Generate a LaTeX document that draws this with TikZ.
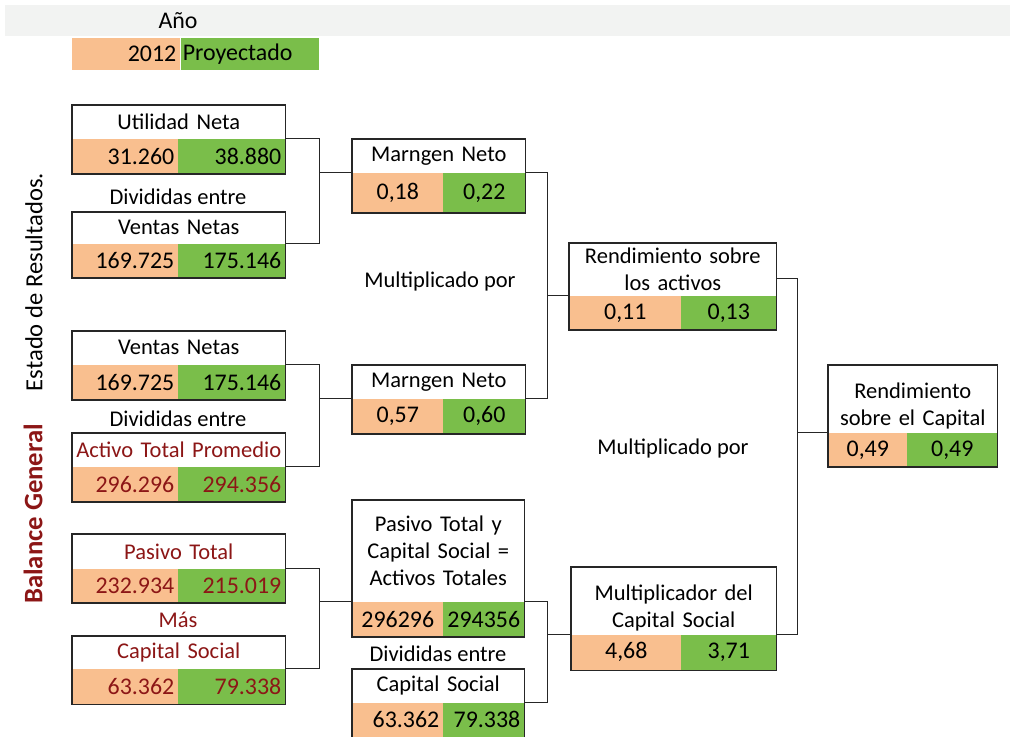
\documentclass[tikz,border=0pt]{standalone}
\usepackage{fontspec}
\setmainfont{Carlito}
\usetikzlibrary{positioning}
\newcommand{\myfont}{\fontsize{16}{19}\selectfont}
\newcommand{\numfont}{\fontsize{17}{20}\selectfont}
\newcommand{\pxu}{0.25mm}
\newcommand{\tallstrut}{\rule{0pt}{21pt}}
\definecolor{cellorange}{RGB}{249,191,143}
\definecolor{cellgreen}{RGB}{122,190,74}
\definecolor{darkred}{RGB}{140,22,22}
\definecolor{bandgray}{RGB}{242,243,242}
\tikzset{
  hdr/.style 2 args={rectangle, fill=white, inner sep=0pt, align=center,
    font=\myfont, anchor=north west, minimum width=#1*\pxu,
    text width=(#1-8)*\pxu, minimum height=#2*\pxu},
  orgcell/.style 2 args={rectangle, fill=cellorange, inner sep=0pt,
    font=\numfont, anchor=north west, align=center, minimum width=#1*\pxu,
    text width=(#1-8)*\pxu, minimum height=#2*\pxu},
  grncell/.style 2 args={rectangle, fill=cellgreen, inner sep=0pt,
    font=\numfont, anchor=north east, align=center, minimum width=#1*\pxu,
    text width=(#1-8)*\pxu, minimum height=#2*\pxu},
  frame/.style={draw=black!85, line width=0.9pt},
  link/.style={draw=black!85, line width=0.8pt},
  optext/.style={font=\myfont, inner sep=1pt}
}

\begin{document}
\begin{tikzpicture}[x=0.25mm, y=-0.25mm]

  \useasboundingbox (0,0) rectangle (1010,737);

  %%%%%%%%%%% year legend
  \fill [bandgray] (5,5) rectangle (1010,36);
  \node [optext, font=\fontsize{17}{20}\selectfont] (anio) at (178,21) {Año};
  \node [orgcell={108}{32}, align=right] (yr) at (72,38) {2012};
  \node [grncell={138}{32}, anchor=north west, align=left, text width=134*\pxu] (proj) at (yr.north east) {Proyectado};

  %%%%%%%%%%% side labels
  \node [rotate=90, font=\fontsize{17.5}{20}\selectfont] (edr) at (34,282) {Estado de Resultados.};
  \node [rotate=90, text=darkred, font=\bfseries\fontsize{19}{22}\selectfont] (bal) at (33,514) {Balance General};

  %%%%%%%%%%% first column
  % Utilidad Neta
  \node [hdr={213}{33}] (un) at (72,105) {Utilidad Neta};
  \node [orgcell={106}{35}, align=right] (unl) at (un.south west) {31.260};
  \node [grncell={107}{35}, align=right] (unr) at (un.south east) {38.880};
  \draw [frame] (un.north west) rectangle (unr.south east);

  \node [optext] (div1) at (178,197) {Divididas entre};

  % Ventas Netas
  \node [hdr={213}{31}] (vn) at (72,212) {Ventas Netas};
  \node [orgcell={106}{34}, align=right] (vnl) at (vn.south west) {169.725};
  \node [grncell={107}{34}, align=right] (vnr) at (vn.south east) {175.146};
  \draw [frame] (vn.north west) rectangle (vnr.south east);

  % Ventas Netas (second)
  \node [hdr={213}{33}] (vnb) at (72,331) {Ventas Netas};
  \node [orgcell={106}{35}, align=right] (vnbl) at (vnb.south west) {169.725};
  \node [grncell={107}{35}, align=right] (vnbr) at (vnb.south east) {175.146};
  \draw [frame] (vnb.north west) rectangle (vnbr.south east);

  \node [optext] (div2) at (178,419) {Divididas entre};

  % Activo Total Promedio
  \node [hdr={213}{33}, text=darkred] (atp) at (72,433) {Activo Total Promedio};
  \node [orgcell={106}{35}, align=right, text=darkred] (atpl) at (atp.south west) {296.296};
  \node [grncell={107}{35}, align=right, text=darkred] (atpr) at (atp.south east) {294.356};
  \draw [frame] (atp.north west) rectangle (atpr.south east);

  % Pasivo Total
  \node [hdr={213}{34}, text=darkred] (pas) at (72,534) {Pasivo Total};
  \node [orgcell={106}{34}, align=right, text=darkred] (pasl) at (pas.south west) {232.934};
  \node [grncell={107}{34}, align=right, text=darkred] (pasr) at (pas.south east) {215.019};
  \draw [frame] (pas.north west) rectangle (pasr.south east);

  \node [optext, text=darkred] (mas) at (178,620) {Más};

  % Capital Social
  \node [hdr={213}{32}, text=darkred] (cap) at (72,636) {Capital Social};
  \node [orgcell={106}{35}, align=right, text=darkred] (capl) at (cap.south west) {63.362};
  \node [grncell={107}{35}, align=right, text=darkred] (capr) at (cap.south east) {79.338};
  \draw [frame] (cap.north west) rectangle (capr.south east);

  %%%%%%%%%%% second column
  % Marngen Neto
  \node [hdr={173}{33}] (mn) at (352,139) {Marngen Neto};
  \node [orgcell={91}{40}] (mnl) at (mn.south west) {0,18};
  \node [grncell={82}{40}] (mnr) at (mn.south east) {0,22};
  \draw [frame] (mn.north west) rectangle (mnr.south east);

  \node [optext] (mul1) at (440,282) {Multiplicado por};

  % Marngen Neto (second)
  \node [hdr={173}{33}] (mnb) at (352,365) {Marngen Neto};
  \node [orgcell={91}{35}] (mnbl) at (mnb.south west) {0,57};
  \node [grncell={82}{35}] (mnbr) at (mnb.south east) {0,60};
  \draw [frame] (mnb.north west) rectangle (mnbr.south east);

  % Pasivo Total y Capital Social
  \node [hdr={172}{101}] (pyc) at (352,500) {Pasivo Total y\\ Capital Social =\\ Activos Totales};
  \node [orgcell={91}{35}] (pycl) at (pyc.south west) {296296};
  \node [grncell={81}{35}] (pycr) at (pyc.south east) {294356};
  \draw [frame] (pyc.north west) rectangle (pycr.south east);

  \node [optext] (div3) at (438,654) {Divididas entre};

  % Capital Social (second)
  \node [hdr={172}{33}] (capb) at (352,669) {Capital Social};
  \node [orgcell={91}{34}, align=right] (capbl) at (capb.south west) {63.362};
  \node [grncell={81}{34}, align=right] (capbr) at (capb.south east) {79.338};
  \draw [frame] (capb.north west) rectangle (capbr.south east);

  %%%%%%%%%%% third column
  % Rendimiento sobre los activos
  \node [hdr={207}{52}] (ra) at (569,243) {Rendimiento sobre\\ los activos};
  \node [orgcell={112}{34}] (ral) at (ra.south west) {0,11};
  \node [grncell={95}{34}] (rar) at (ra.south east) {0,13};
  \draw [frame] (ra.north west) rectangle (rar.south east);

  \node [optext] (mul2) at (673,448) {Multiplicado por};

  % Multiplicador del Capital Social
  \node [hdr={205}{67}] (mc) at (571,567) {\tallstrut Multiplicador del\\ Capital Social};
  \node [orgcell={110}{35}] (mcl) at (mc.south west) {4,68};
  \node [grncell={95}{35}] (mcr) at (mc.south east) {3,71};
  \draw [frame] (mc.north west) rectangle (mcr.south east);

  %%%%%%%%%%% result
  % Rendimiento sobre el Capital
  \node [hdr={169}{67}] (rc) at (828,365) {\tallstrut Rendimiento\\ sobre el Capital};
  \node [orgcell={79}{34}] (rcl) at (rc.south west) {0,49};
  \node [grncell={90}{34}] (rcr) at (rc.south east) {0,49};
  \draw [frame] (rc.north west) rectangle (rcr.south east);

  %%%%%%%%%%% connectors
  % first column into second
  \draw [link] (un.south east) -- ++(34,0) |- (vn.south east);
  \draw [link] (mn.south west) -- ++(-33,0);
  \draw [link] (vnb.south east) -- ++(34,0) |- (atp.south east);
  \draw [link] (mnb.south west) -- ++(-33,0);
  \draw [link] (pas.south east) -- ++(34,0) |- (cap.south east);
  \draw [link] (pyc.south west) -- ++(-33,0);

  % second column into third
  \draw [link] (mn.south east) -- ++(22,0) |- (mnb.south east);
  \draw [link] (ra.south west) -- ++(-22,0);
  \draw [link] (pyc.south east) -- ++(23,0) |- (capb.south east);
  \draw [link] (mc.south west) -- ++(-24,0);

  % third column into result
  \draw [link] ([yshift=17*\pxu]ra.south east) -- ++(21,0) |- (mc.south east);
  \draw [link] (rc.south west) -- ++(-31,0);

\end{tikzpicture}
\end{document}
